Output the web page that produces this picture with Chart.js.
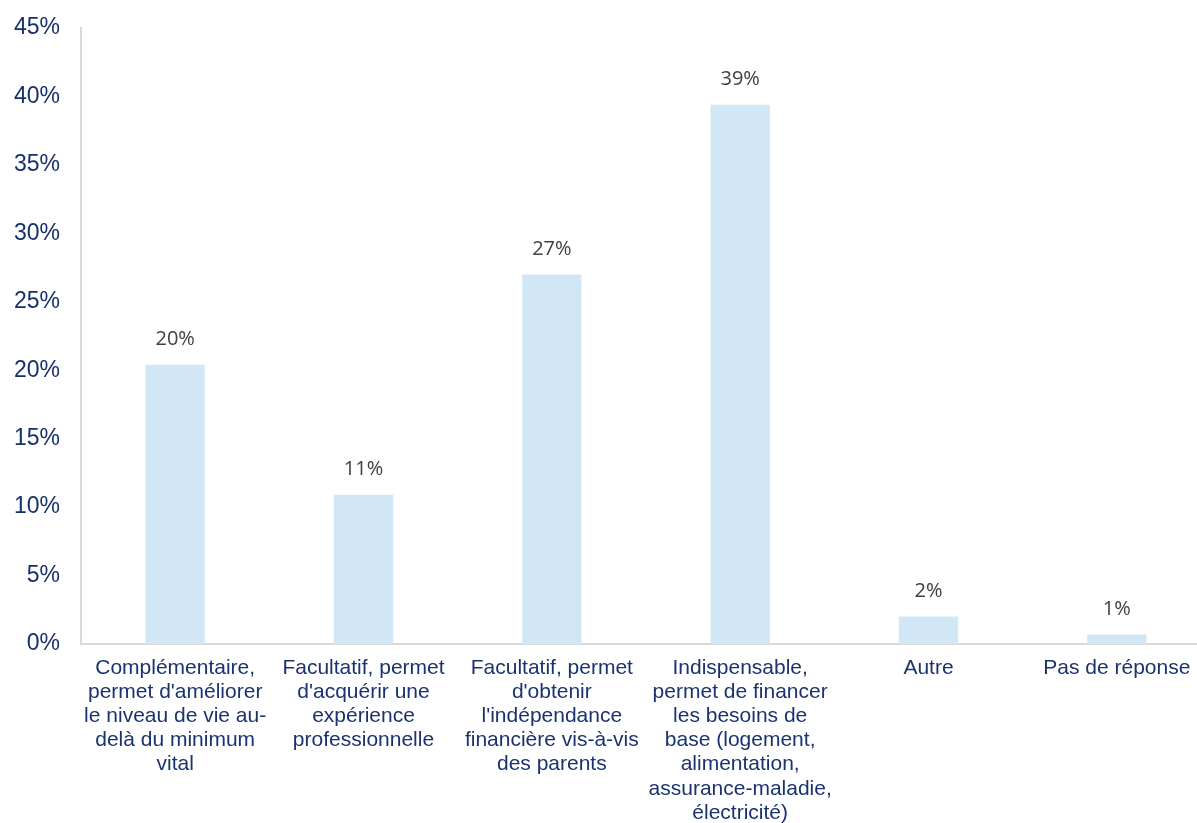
<!DOCTYPE html>
<html>
<head>
<meta charset="utf-8">
<script src="https://cdn.jsdelivr.net/npm/chart.js@4/dist/chart.umd.min.js"></script>
<style>
  html, body { margin:0; padding:0; background:#fff; overflow:hidden; }
  #wrap { width:1215px; height:823px; }
</style>
</head>
<body>
<div id="wrap"><canvas id="chart"></canvas></div>
<script>
// categories (one array per wrapped label)
const categories = [
  ['Complémentaire,', "permet d'améliorer", 'le niveau de vie au-', 'delà du minimum', 'vital'],
  ['Facultatif, permet', "d'acquérir une", 'expérience', 'professionnelle'],
  ['Facultatif, permet', "d'obtenir", "l'indépendance", 'financière vis-à-vis', 'des parents'],
  ['Indispensable,', 'permet de financer', 'les besoins de', 'base (logement,', 'alimentation,', 'assurance-maladie,', 'électricité)'],
  ['Autre'],
  ['Pas de réponse']
];
const values = [20.4, 10.9, 27.0, 39.4, 2.0, 0.7];
const yTicks = [0, 5, 10, 15, 20, 25, 30, 35, 40, 45];

// value labels above bars
const barLabels = {
  id: 'barLabels',
  afterDatasetsDraw(chart) {
    const ctx = chart.ctx;
    ctx.save();
    ctx.font = '20px "Open Sans", "DejaVu Sans", sans-serif';
    ctx.fillStyle = '#404040';
    ctx.textAlign = 'center';
    ctx.textBaseline = 'middle';
    chart.getDatasetMeta(0).data.forEach((bar, i) => {
      ctx.fillText(Math.round(values[i]) + '%', bar.x, bar.y - 25);
    });
    ctx.restore();
  }
};

new Chart(document.getElementById('chart').getContext('2d'), {
  type: 'bar',
  data: {
    labels: categories,
    datasets: [{ data: values, backgroundColor: '#d2e7f5', categoryPercentage: 1, barPercentage: 0.315 }]
  },
  options: {
    responsive: true,
    maintainAspectRatio: false,
    animation: false,
    layout: { padding: { top: 28, right: 4, left: 0, bottom: 0 } },
    plugins: { legend: { display: false }, tooltip: { enabled: false } },
    scales: {
      x: {
        grid: { display: false, drawTicks: false },
        border: { color: '#d9d9d9', width: 2 },
        ticks: {
          color: '#1a3370',
          font: { family: 'Liberation Sans, Arial, sans-serif', size: 21, lineHeight: 1.15 },
          padding: 12,
          maxRotation: 0,
          autoSkip: false
        },
        afterFit(s) { s.height = 179; }
      },
      y: {
        min: 0, max: 45,
        afterBuildTicks(s) { s.ticks = yTicks.map(v => ({ value: v })); },
        grid: { display: false, drawTicks: false },
        border: { color: '#d9d9d9', width: 2 },
        ticks: {
          color: '#15306a',
          font: { family: 'Liberation Sans, Arial, sans-serif', size: 23 },
          padding: 21,
          callback: v => v + '%'
        },
        afterFit(s) { s.width = 81; s.paddingTop = 0; s.paddingBottom = 0; }
      }
    }
  },
  plugins: [barLabels]
});
</script>
</body>
</html>
